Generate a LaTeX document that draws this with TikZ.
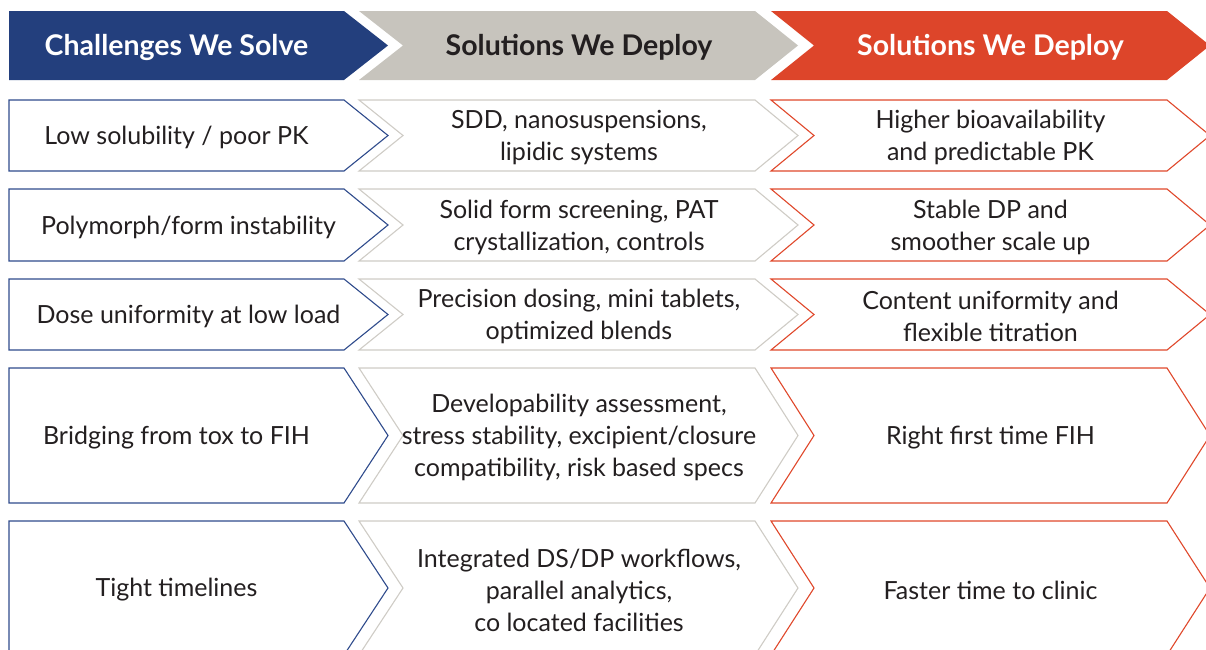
\documentclass[tikz,border=0pt]{standalone}
\usepackage{fontspec}
\setmainfont{Lato}
\definecolor{hblue}{HTML}{233F7D}
\definecolor{hgray}{HTML}{C7C4BD}
\definecolor{hred}{HTML}{DD452A}
\definecolor{lblue}{HTML}{2F4B8C}
\definecolor{lgray}{HTML}{CFCCC6}
\definecolor{lred}{HTML}{E0482B}
\definecolor{ink}{HTML}{231F20}
\tikzset{
  bodytext/.style={align=center, inner sep=0pt, text=ink, font=\fontsize{25}{32}\selectfont},
  headtext/.style={align=center, inner sep=0pt, font=\fontsize{28.5}{30}\selectfont\bfseries},
  hb shape/.style={fill=hblue, draw=none},
  hb text/.style={headtext, text=white},
  hg shape/.style={fill=hgray, draw=none},
  hg text/.style={headtext, text=ink},
  hr shape/.style={fill=hred, draw=none},
  hr text/.style={headtext, text=white},
  cb shape/.style={draw=lblue, line width=1.1pt, fill=white},
  cb text/.style={bodytext},
  cbw shape/.style={cb shape},
  cbw text/.style={bodytext, xshift=12pt},
  cg shape/.style={draw=lgray, line width=1.1pt, fill=white},
  cg text/.style={bodytext},
  cr shape/.style={draw=lred, line width=1.1pt, fill=white},
  cr text/.style={bodytext},
}
% name, x0, xnotch, xrect, xtip, ytop, ybot, kind, text
\newcommand\chevbox[9]{%
  \draw[#8 shape] (#2,#6) -- (#4,#6) -- (#5,{(#6+#7)/2}) -- (#4,#7) -- (#2,#7) -- (#3,{(#6+#7)/2}) -- cycle;
  \node[#8 text] (#1) at ({(#3+#4)/2},{(#6+#7)/2+2}) {#9};
}
\begin{document}
\begin{tikzpicture}[x=1pt,y=-1pt]
\useasboundingbox (0,0) rectangle (1206,649);
% headers
\chevbox{h1}{9}{9}{344}{388}{11}{80}{hb}{Challenges We Solve}
\chevbox{h2}{359}{403}{755}{798}{11}{80}{hg}{Solutions We Deploy}
\chevbox{h3}{771}{814}{1167}{1210}{11}{80}{hr}{Solutions We Deploy}
% row 1
\chevbox{a1}{9}{9}{344}{388}{100}{171}{cb}{Low solubility / poor PK}
\chevbox{b1}{359}{403}{755}{798}{100}{171}{cg}{SDD, nanosuspensions,\\lipidic systems}
\chevbox{c1}{771}{814}{1167}{1210}{100}{171}{cr}{Higher bioavailability\\and predictable PK}
% row 2
\chevbox{a2}{9}{9}{344}{388}{189}{261}{cbw}{Polymorph/form instability}
\chevbox{b2}{359}{403}{755}{798}{189}{261}{cg}{Solid form screening, PAT\\crystallization, controls}
\chevbox{c2}{771}{814}{1167}{1210}{189}{261}{cr}{Stable DP and\\smoother scale up}
% row 3
\chevbox{a3}{9}{9}{344}{388}{279}{350}{cbw}{Dose uniformity at low load}
\chevbox{b3}{359}{403}{755}{798}{279}{350}{cg}{Precision dosing, mini tablets,\\optimized blends}
\chevbox{c3}{771}{814}{1167}{1210}{279}{350}{cr}{Content uniformity and\\flexible titration}
% row 4
\chevbox{a4}{9}{9}{344}{388}{368}{503}{cb}{Bridging from tox to FIH}
\chevbox{b4}{359}{403}{755}{798}{368}{503}{cg}{Developability assessment,\\stress stability, excipient/closure\\compatibility, risk based specs}
\chevbox{c4}{771}{814}{1167}{1210}{368}{503}{cr}{Right first time FIH}
% row 5
\chevbox{a5}{9}{9}{344}{388}{521}{655}{cb}{Tight timelines}
\chevbox{b5}{359}{403}{755}{798}{521}{655}{cg}{Integrated DS/DP workflows,\\parallel analytics,\\co located facilities}
\chevbox{c5}{771}{814}{1167}{1210}{521}{655}{cr}{Faster time to clinic}
\end{tikzpicture}
\end{document}
